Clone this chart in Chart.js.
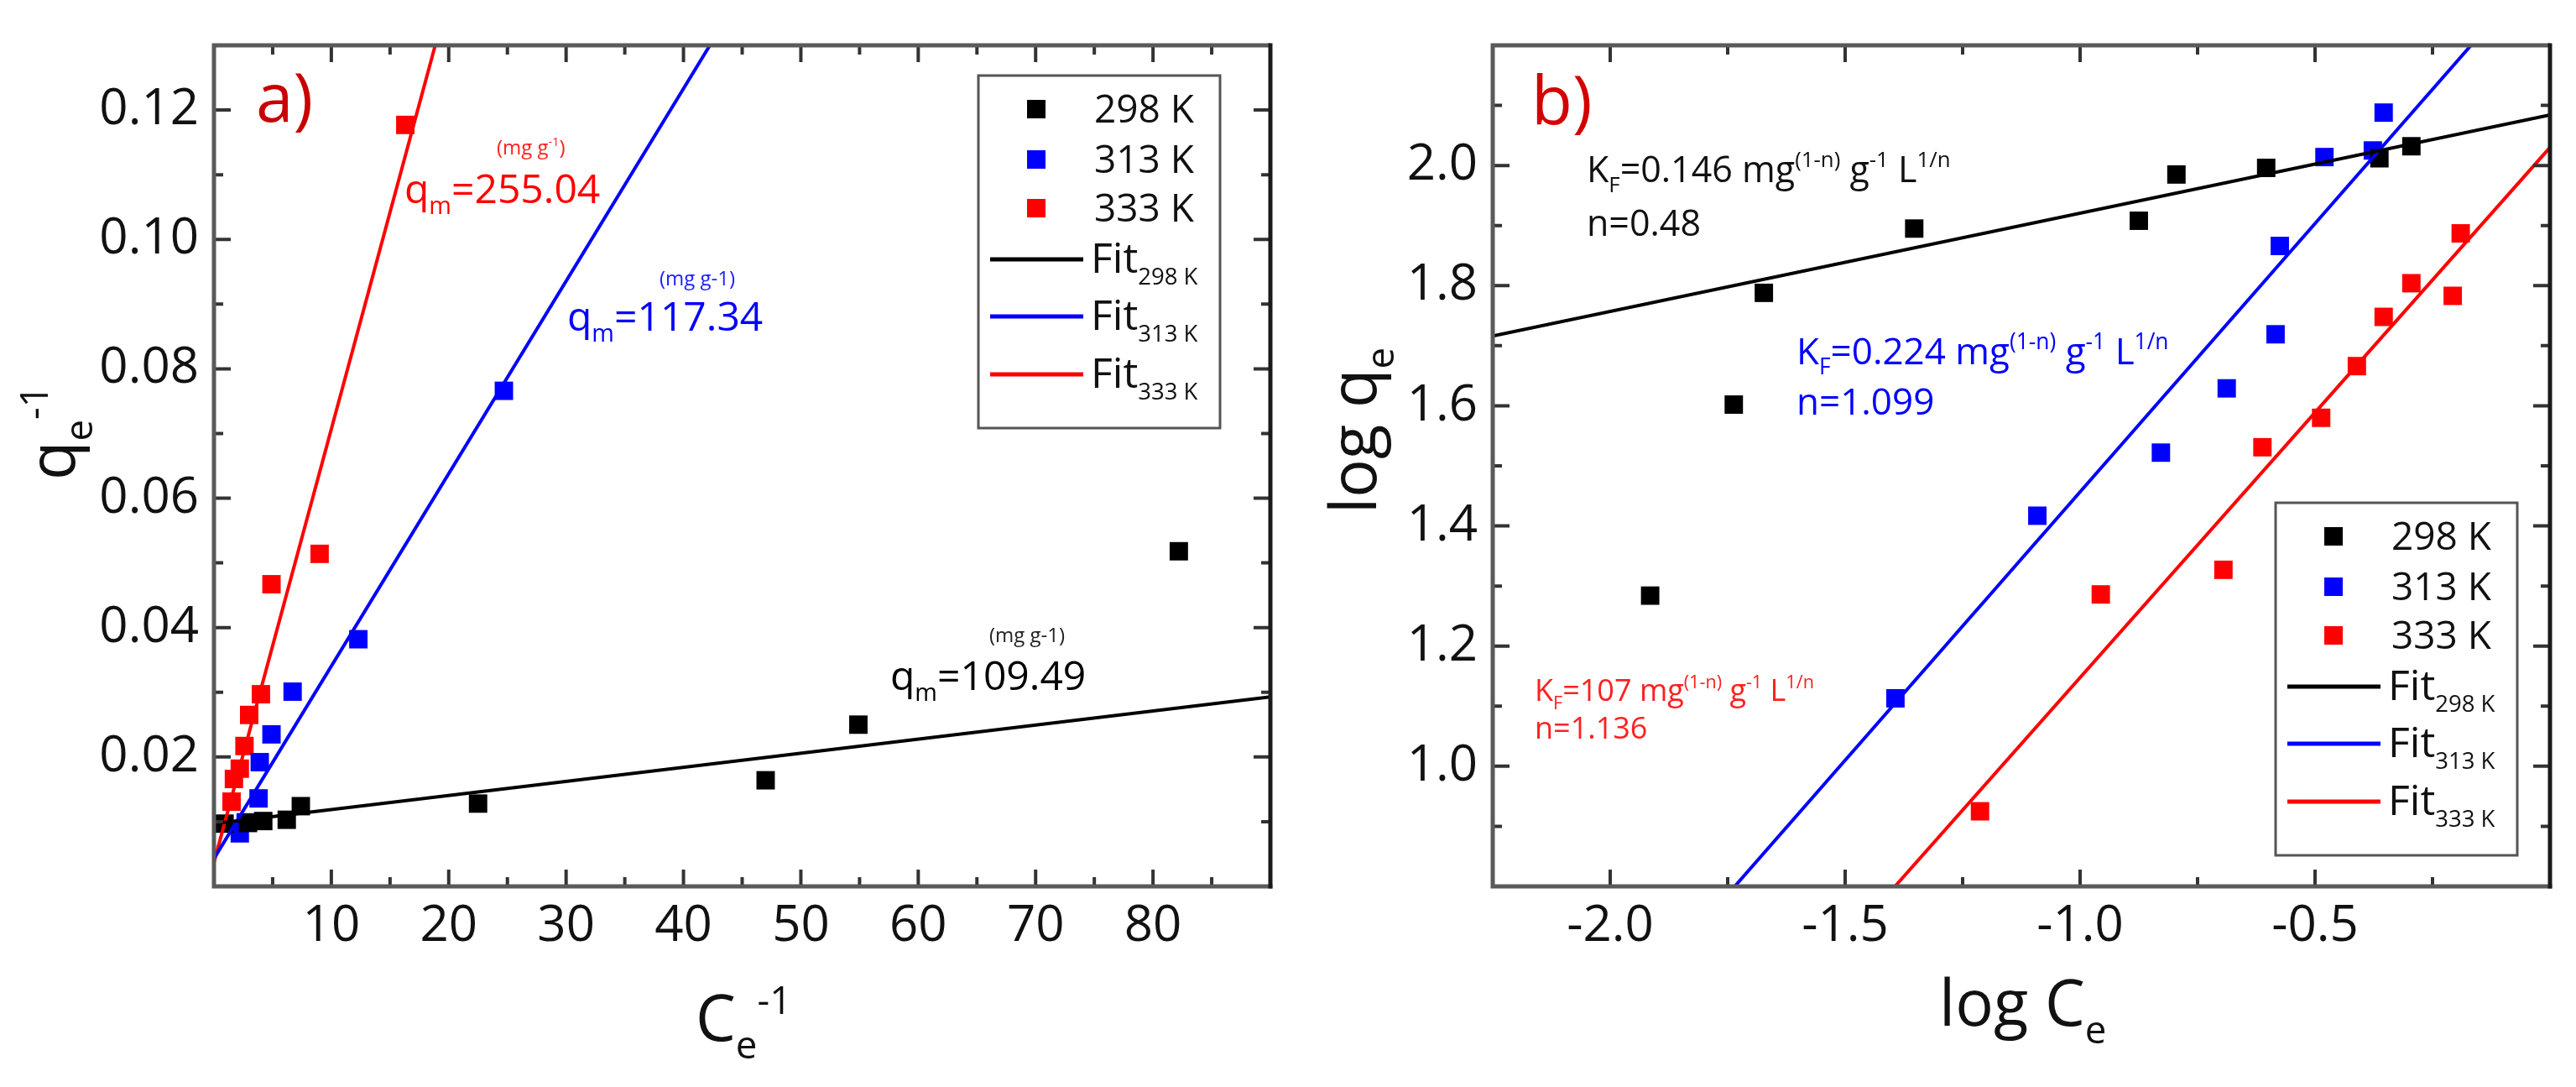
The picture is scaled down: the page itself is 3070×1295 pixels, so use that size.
<!DOCTYPE html>
<html><head><meta charset="utf-8">
<script src="https://cdn.jsdelivr.net/npm/chart.js@4.4.1/dist/chart.umd.min.js"></script>
<style>
html,body{margin:0;padding:0;background:#fff;overflow:hidden}
#wrap{position:relative;width:3070px;height:1295px;background:#fff}
canvas{position:absolute;top:0}
#ca{left:0}
#cb{left:1530px}
</style></head><body>
<div id="wrap"><canvas id="ca" width="1530" height="1295"></canvas><canvas id="cb" width="1540" height="1295"></canvas></div>
<script>
// ---------- Panel a) : q_e^-1 vs C_e^-1 ----------
const a298X = [0.9, 2.9, 4.2, 6.2, 7.4, 22.5, 47.0, 54.9, 82.2];
const a298Y = [0.0097, 0.0098, 0.0101, 0.0103, 0.0124, 0.0128, 0.0164, 0.0250, 0.0518];
const a313X = [2.2, 2.7, 3.8, 3.9, 4.9, 6.7, 12.3, 24.7];
const a313Y = [0.0082, 0.0099, 0.0136, 0.0192, 0.0235, 0.0301, 0.0382, 0.0766];
const a333X = [1.5, 1.7, 2.2, 2.6, 3.0, 4.0, 4.9, 9.0, 16.3];
const a333Y = [0.0131, 0.0166, 0.0182, 0.0217, 0.0265, 0.0297, 0.0467, 0.0514, 0.1177];
const aFit298X = [0, 90];     const aFit298Y = [0.0097, 0.0293];
const aFit313X = [0, 42.25];  const aFit313Y = [0.0043, 0.13];
const aFit333X = [0, 18.85];  const aFit333Y = [0.0037, 0.13];
const aXRange = [0, 90];
const aYRange = [0, 0.13];
const aXTicks = [10, 20, 30, 40, 50, 60, 70, 80];
const aYTicks = [0.02, 0.04, 0.06, 0.08, 0.10, 0.12];
const aXMinor = [5, 15, 25, 35, 45, 55, 65, 75, 85];
const aYMinor = [0.01, 0.03, 0.05, 0.07, 0.09, 0.11];

// ---------- Panel b) : log q_e vs log C_e ----------
const b298X = [-1.915, -1.737, -1.673, -1.353, -0.875, -0.795, -0.604, -0.363, -0.295];
const b298Y = [1.284, 1.602, 1.788, 1.895, 1.908, 1.985, 1.996, 2.012, 2.032];
const b313X = [-1.393, -1.091, -0.828, -0.688, -0.584, -0.575, -0.480, -0.377, -0.354];
const b313Y = [1.113, 1.417, 1.522, 1.629, 1.719, 1.866, 2.014, 2.025, 2.088];
const b333X = [-1.213, -0.956, -0.695, -0.612, -0.487, -0.411, -0.354, -0.295, -0.207, -0.190];
const b333Y = [0.925, 1.286, 1.327, 1.531, 1.580, 1.666, 1.748, 1.804, 1.783, 1.887];
const bFit298X = [-2.25, 0];      const bFit298Y = [1.716, 2.084];
const bFit313X = [-1.735, -0.168]; const bFit313Y = [0.8, 2.2];
const bFit333X = [-1.394, 0];     const bFit333Y = [0.8, 2.030];
const bXRange = [-2.25, 0];
const bYRange = [0.8, 2.2];
const bXTicks = [-2.0, -1.5, -1.0, -0.5];
const bYTicks = [1.0, 1.2, 1.4, 1.6, 1.8, 2.0];
const bXMinor = [-1.75, -1.25, -0.75, -0.25];
const bYMinor = [0.9, 1.1, 1.3, 1.5, 1.7, 1.9, 2.1];

const seriesNames = ['298 K', '313 K', '333 K'];
const fitSubs = ['298 K', '313 K', '333 K'];
const colors = ['#000000', '#0000ff', '#ff0000'];

const FONT = "'Open Sans', 'Noto Sans', sans-serif";

function pts(xs, ys) { return xs.map((x, i) => ({x: x, y: ys[i]})); }

function drawRich(ctx, x, y, parts, base, color, rot) {
  ctx.save();
  ctx.translate(x, y);
  if (rot) ctx.rotate(rot);
  ctx.fillStyle = color;
  ctx.textBaseline = 'alphabetic';
  ctx.textAlign = 'left';
  let cx = 0;
  for (const p of parts) {
    const t = p[0], k = p[1] || 0;
    const sz = k ? base * (p[2] || 0.6) : base;
    ctx.font = sz + 'px ' + FONT;
    const dy = k === 1 ? base * 0.28 : (k === 2 ? -base * 0.42 : 0);
    ctx.fillText(t, cx, dy);
    cx += ctx.measureText(t).width;
  }
  ctx.restore();
}

const decoPlugin = {
  id: 'deco',
  afterDraw(chart, args, o) {
    const ctx = chart.ctx, ca = chart.chartArea;
    const xs = chart.scales.x, ys = chart.scales.y;
    ctx.save();
    // inward ticks on all four sides
    ctx.strokeStyle = '#333'; ctx.lineWidth = 4; ctx.lineCap = 'butt';
    const tick = (vals, len, isX) => {
      for (const v of vals) {
        ctx.beginPath();
        if (isX) {
          const p = xs.getPixelForValue(v);
          ctx.moveTo(p, ca.bottom); ctx.lineTo(p, ca.bottom - len);
          ctx.moveTo(p, ca.top); ctx.lineTo(p, ca.top + len);
        } else {
          const p = ys.getPixelForValue(v);
          ctx.moveTo(ca.left, p); ctx.lineTo(ca.left + len, p);
          ctx.moveTo(ca.right, p); ctx.lineTo(ca.right - len, p);
        }
        ctx.stroke();
      }
    };
    tick(o.xMajor, 20, true); tick(o.xMinor, 11, true);
    tick(o.yMajor, 20, false); tick(o.yMinor, 11, false);
    // frame
    ctx.lineWidth = 5;
    ctx.strokeStyle = '#5a5a5a';
    ctx.beginPath();
    ctx.moveTo(ca.right, ca.top); ctx.lineTo(ca.left, ca.top); ctx.lineTo(ca.left, ca.bottom); ctx.lineTo(ca.right + 2.5, ca.bottom);
    ctx.stroke();
    ctx.strokeStyle = '#1a1a1a';
    ctx.beginPath(); ctx.moveTo(ca.right, ca.top - 2.5); ctx.lineTo(ca.right, ca.bottom + 2.5); ctx.stroke();
    ctx.restore();
    // texts
    const off = o.offset;
    for (const t of o.texts) {
      drawRich(ctx, t.x - off, t.y, t.parts, t.size, t.color, t.rot || 0);
    }
    // legend
    const L = o.legend;
    const lx = L.x - off, ly = L.y;
    ctx.save();
    ctx.strokeStyle = '#555'; ctx.lineWidth = 3;
    ctx.strokeRect(lx, ly, 288, 420);
    const rowsY = [40, 100, 158, 219, 287, 356];
    for (let i = 0; i < 3; i++) {
      ctx.fillStyle = colors[i];
      ctx.fillRect(lx + 69 - 11, ly + rowsY[i] - 11, 22, 22);
      drawRich(ctx, lx + 138, ly + rowsY[i] + 16, [[seriesNames[i], 0]], 46, '#111');
    }
    for (let i = 0; i < 3; i++) {
      const yy = ly + rowsY[3 + i];
      ctx.strokeStyle = colors[i]; ctx.lineWidth = 5;
      ctx.beginPath(); ctx.moveTo(lx + 14, yy); ctx.lineTo(lx + 125, yy); ctx.stroke();
      drawRich(ctx, lx + 134, yy + 16, [['Fit', 0], [fitSubs[i], 1, 0.55]], 50, '#111');
    }
    ctx.restore();
  }
};

function fmt(d) { return v => (v < 0 ? '-' : '') + Math.abs(v).toFixed(d); }

function makeChart(id, d) {
  const ds = [];
  for (let i = 0; i < 3; i++) {
    ds.push({data: pts(d.sx[i], d.sy[i]), pointStyle: 'rect', pointRadius: 15.5, pointHoverRadius: 15.5,
      backgroundColor: colors[i], borderWidth: 0, showLine: false, order: 2});
  }
  for (let i = 0; i < 3; i++) {
    ds.push({data: pts(d.fx[i], d.fy[i]), showLine: true, pointRadius: 0, borderColor: colors[i],
      borderWidth: 4, fill: false, order: 1});
  }
  const tickFont = {family: FONT, size: 60};
  return new Chart(document.getElementById(id), {
    type: 'scatter',
    data: {datasets: ds},
    options: {
      responsive: false, animation: false, devicePixelRatio: 1,
      layout: {padding: {top: 43, right: d.padRight, left: 0, bottom: 0}},
      plugins: {legend: {display: false}, tooltip: {enabled: false}, deco: d.deco},
      scales: {
        x: {type: 'linear', min: d.xr[0], max: d.xr[1],
          afterBuildTicks: s => { s.ticks = d.xt.map(v => ({value: v})); },
          afterFit: s => { s.height = 1295 - 1056; },
          grid: {display: false, drawTicks: false}, border: {display: false},
          ticks: {font: tickFont, color: '#111', padding: 12, autoSkip: false, maxRotation: 0, callback: fmt(d.xd)}},
        y: {type: 'linear', min: d.yr[0], max: d.yr[1],
          afterBuildTicks: s => { s.ticks = d.yt.map(v => ({value: v})); },
          afterFit: s => { s.width = d.yWidth; },
          grid: {display: false, drawTicks: false}, border: {display: false},
          ticks: {font: tickFont, color: '#111', padding: 18, autoSkip: false, callback: fmt(d.yd)}}
      }
    },
    plugins: [decoPlugin]
  });
}

makeChart('ca', {
  sx: [a298X, a313X, a333X], sy: [a298Y, a313Y, a333Y],
  fx: [aFit298X, aFit313X, aFit333X], fy: [aFit298Y, aFit313Y, aFit333Y],
  xr: aXRange, yr: aYRange, xt: aXTicks, yt: aYTicks, xd: 0, yd: 2,
  padRight: 16, yWidth: 255,
  deco: {
    offset: 0, xMajor: aXTicks, xMinor: aXMinor, yMajor: aYTicks, yMinor: aYMinor,
    legend: {x: 1166, y: 90},
    texts: [
      {x: 305, y: 145, size: 80, color: '#c80000', parts: [['a)', 0]]},
      {x: 592, y: 184, size: 24, color: '#ff2020', parts: [['(mg g', 0], ['-1', 2], [')', 0]]},
      {x: 482, y: 242, size: 48, color: '#ff0000', parts: [['q', 0], ['m', 1], ['=255.04', 0]]},
      {x: 786, y: 340, size: 24, color: '#2020ff', parts: [['(mg g-1)', 0]]},
      {x: 676, y: 394, size: 48, color: '#0000ff', parts: [['q', 0], ['m', 1], ['=117.34', 0]]},
      {x: 1179, y: 765, size: 24, color: '#222', parts: [['(mg g-1)', 0]]},
      {x: 1061, y: 822, size: 48, color: '#000', parts: [['q', 0], ['m', 1], ['=109.49', 0]]},
      {x: 829, y: 1240, size: 76, color: '#111', parts: [['C', 0], ['e', 1], ['-1', 2]]},
      {x: 89, y: 572, size: 76, color: '#111', rot: -Math.PI / 2, parts: [['q', 0], ['e', 1], ['-1', 2]]}
    ]
  }
});

makeChart('cb', {
  sx: [b298X, b313X, b333X], sy: [b298Y, b313Y, b333Y],
  fx: [bFit298X, bFit313X, bFit333X], fy: [bFit298Y, bFit313Y, bFit333Y],
  xr: bXRange, yr: bYRange, xt: bXTicks, yt: bYTicks, xd: 1, yd: 1,
  padRight: 31, yWidth: 249,
  deco: {
    offset: 1530, xMajor: bXTicks, xMinor: bXMinor, yMajor: bYTicks, yMinor: bYMinor,
    legend: {x: 2712, y: 599},
    texts: [
      {x: 1825, y: 148, size: 80, color: '#d40000', parts: [['b)', 0]]},
      {x: 1891, y: 217, size: 43, color: '#111', parts: [['K', 0], ['F', 1], ['=0.146 mg', 0], ['(1-n)', 2], [' g', 0], ['-1', 2], [' L', 0], ['1/n', 2]]},
      {x: 1891, y: 281, size: 43, color: '#111', parts: [['n=0.48', 0]]},
      {x: 2141, y: 434, size: 44, color: '#0000ff', parts: [['K', 0], ['F', 1], ['=0.224 mg', 0], ['(1-n)', 2], [' g', 0], ['-1', 2], [' L', 0], ['1/n', 2]]},
      {x: 2141, y: 494, size: 44, color: '#0000ff', parts: [['n=1.099', 0]]},
      {x: 1829, y: 835, size: 36, color: '#ff2020', parts: [['K', 0], ['F', 1], ['=107 mg', 0], ['(1-n)', 2], [' g', 0], ['-1', 2], [' L', 0], ['1/n', 2]]},
      {x: 1829, y: 880, size: 36, color: '#ff2020', parts: [['n=1.136', 0]]},
      {x: 2311, y: 1222, size: 76, color: '#111', parts: [['log C', 0], ['e', 1]]},
      {x: 1640, y: 612, size: 76, color: '#111', rot: -Math.PI / 2, parts: [['log q', 0], ['e', 1]]}
    ]
  }
});
</script>
</body></html>
